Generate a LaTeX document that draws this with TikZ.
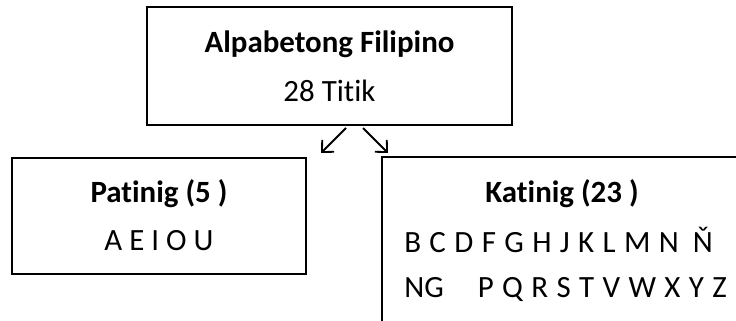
\documentclass[tikz,border=0pt]{standalone}
\usepackage{fontspec}
\setmainfont[Ligatures=NoCommon]{Carlito}
\newfontfamily\rowfont[Ligatures=NoCommon,WordSpace=1.2]{Carlito}
\usetikzlibrary{arrows.meta}

\begin{document}
\begin{tikzpicture}[
    box/.style={draw,line width=1.3pt,inner sep=0pt},
    txt/.style={font=\fontsize{22pt}{26pt}\selectfont,inner sep=0pt},
    row/.style={font=\rowfont\fontsize{22pt}{26pt}\selectfont,inner sep=0pt},
    head/.style={txt,font=\fontsize{22pt}{26pt}\selectfont\bfseries},
    link/.style={-{Straight Barb[length=2.2mm,width=4.2mm]},line width=1.3pt}]
    \useasboundingbox (0,0) rectangle (18.4,8);
    \clip (0,0) rectangle (18.4,8);

    % the three boxes
    \node[box,minimum width=9.125cm,minimum height=2.95cm](alpabeto)at(8.2375,6.35){};
    \node[box,minimum width=7.35cm,minimum height=2.9cm](patinig)at(3.975,2.6){};
    \node[box,minimum width=9.95cm,minimum height=5.075cm](katinig)at(14.525,1.5375){};

    % texts
    \node[head,anchor=base](alpabetoHead)at(8.2375,6.675){Alpabetong Filipino};
    \node[txt,anchor=base](alpabetoNum)at(8.2375,5.45){28 Titik};
    \node[head,anchor=base](patinigHead)at(3.975,2.925){Patinig (5 )};
    \node[txt,anchor=base](patinigList)at(3.975,1.725){A E I O U};
    \node[head,anchor=base](katinigHead)at(14.05,2.925){Katinig (23 )};
    \node[row,anchor=base west](katinigOne)at(10.1,1.675){B C D F G H J K L M N\hspace{0.45em}Ň};
    \node[row,anchor=base west](katinigTwo)at(10.1,0.575){NG\hspace{1.1em}P Q R S T V W X Y Z};

    % arrows
    \coordinate(leftFrom)at(8.65,4.8);
    \coordinate(leftTo)at(8.025,4.175);
    \coordinate(rightFrom)at(9.075,4.8);
    \coordinate(rightTo)at(9.7,4.175);
    \draw[link](leftFrom)--(leftTo);
    \draw[link](rightFrom)--(rightTo);
\end{tikzpicture}
\end{document}
